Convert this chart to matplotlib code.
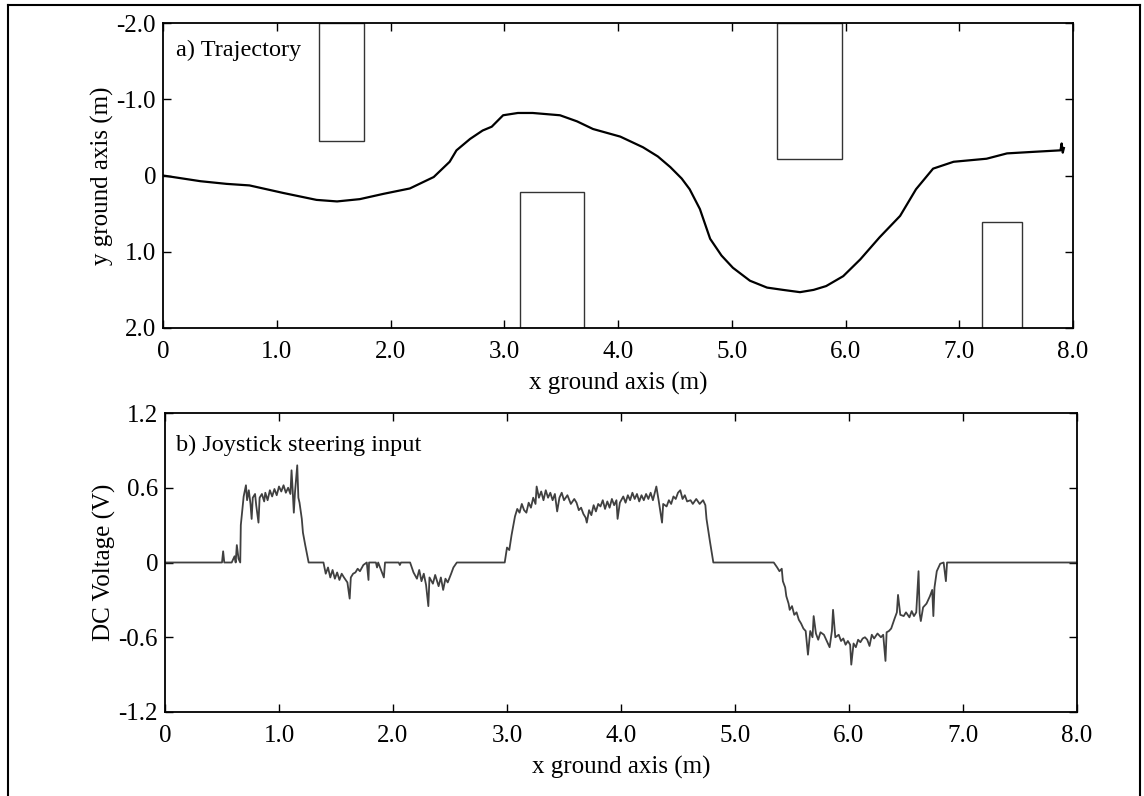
import matplotlib
matplotlib.use("Agg")
import matplotlib.pyplot as plt
from matplotlib.patches import Rectangle
from matplotlib.lines import Line2D

plt.rcParams['font.family'] = ['Liberation Serif', 'DejaVu Serif']

# ---- data: trajectory ----
traj_x = [0, 0.33, 0.56, 0.76, 1.06, 1.35, 1.53, 1.73, 1.94, 2.17, 2.38, 2.52, 2.58, 2.70, 2.81,
          2.89, 2.99, 3.12, 3.25, 3.49, 3.64, 3.78, 4.02, 4.22, 4.35, 4.46, 4.56, 4.63, 4.72, 4.81,
          4.91, 5.01, 5.16, 5.31, 5.45, 5.60, 5.72, 5.83, 5.98, 6.13, 6.30, 6.48, 6.62, 6.77,
          6.95, 7.24, 7.42, 7.65, 7.89, 7.90, 7.91, 7.92]
traj_y = [0, 0.075, 0.11, 0.13, 0.23, 0.32, 0.34, 0.31, 0.24, 0.17, 0.02, -0.18, -0.33, -0.48, -0.59,
          -0.64, -0.79, -0.82, -0.82, -0.79, -0.71, -0.61, -0.51, -0.37, -0.25, -0.11, 0.04, 0.18,
          0.44, 0.83, 1.05, 1.21, 1.38, 1.47, 1.50, 1.53, 1.50, 1.45, 1.32, 1.10, 0.81, 0.53, 0.18,
          -0.09, -0.18, -0.22, -0.29, -0.31, -0.33, -0.42, -0.30, -0.36]

# obstacles: (x0, x1, y0, y1)
obs_x0 = [1.37, 3.14, 5.40, 7.20]
obs_x1 = [1.77, 3.70, 5.97, 7.55]
obs_y0 = [-2.0, 0.21, -2.0, 0.61]
obs_y1 = [-0.45, 2.0, -0.21, 2.0]

# ---- data: joystick voltage ----
volt_x = [0, 0.50, 0.51, 0.52, 0.585, 0.61, 0.62, 0.63, 0.645, 0.66, 0.665, 0.69, 0.71, 0.72,
          0.735, 0.75, 0.76, 0.77, 0.79, 0.80, 0.82, 0.83, 0.85, 0.87, 0.88, 0.90, 0.92, 0.94,
          0.96, 0.98, 1.00, 1.02, 1.04, 1.06, 1.08, 1.10, 1.11, 1.12, 1.13, 1.14, 1.16, 1.17,
          1.18, 1.20, 1.21, 1.23, 1.26, 1.39, 1.41, 1.43, 1.45, 1.47, 1.49, 1.51, 1.53, 1.55,
          1.57, 1.60, 1.62, 1.63, 1.65, 1.67, 1.69, 1.71, 1.74, 1.77, 1.785, 1.79, 1.85, 1.86,
          1.87, 1.92, 1.93, 2.05, 2.06, 2.07, 2.15, 2.18, 2.21, 2.23, 2.25, 2.27, 2.29, 2.31,
          2.32, 2.35, 2.37, 2.40, 2.42, 2.44, 2.46, 2.48, 2.51, 2.53, 2.56, 2.98, 3.00, 3.02,
          3.04, 3.07, 3.09, 3.11, 3.13, 3.15, 3.17, 3.19, 3.21, 3.23, 3.25, 3.26, 3.28, 3.30,
          3.32, 3.34, 3.36, 3.38, 3.40, 3.42, 3.44, 3.46, 3.48, 3.50, 3.53, 3.56, 3.59, 3.61,
          3.63, 3.65, 3.67, 3.69, 3.70, 3.72, 3.74, 3.76, 3.78, 3.80, 3.82, 3.84, 3.86, 3.88,
          3.90, 3.92, 3.94, 3.96, 3.97, 3.99, 4.02, 4.04, 4.06, 4.08, 4.10, 4.12, 4.14, 4.16,
          4.18, 4.20, 4.22, 4.24, 4.26, 4.28, 4.31, 4.33, 4.36, 4.37, 4.40, 4.42, 4.44, 4.46,
          4.48, 4.50, 4.52, 4.54, 4.56, 4.58, 4.61, 4.63, 4.66, 4.69, 4.72, 4.74, 4.75, 4.78,
          4.81, 5.34, 5.37, 5.39, 5.41, 5.42, 5.44, 5.45, 5.47, 5.48, 5.50, 5.52, 5.54, 5.56,
          5.58, 5.60, 5.62, 5.64, 5.66, 5.68, 5.69, 5.71, 5.73, 5.75, 5.78, 5.80, 5.83, 5.85,
          5.86, 5.88, 5.91, 5.93, 5.95, 5.97, 5.99, 6.01, 6.02, 6.04, 6.06, 6.08, 6.10, 6.12,
          6.14, 6.16, 6.18, 6.20, 6.22, 6.25, 6.28, 6.30, 6.32, 6.33, 6.35, 6.37, 6.40, 6.42,
          6.43, 6.45, 6.48, 6.50, 6.53, 6.55, 6.57, 6.59, 6.61, 6.62, 6.63, 6.65, 6.68, 6.71,
          6.73, 6.74, 6.75, 6.77, 6.80, 6.83, 6.85, 6.86, 8.0]
volt_v = [0, 0, 0.09, 0, 0, 0.05, 0.0, 0.14, 0.03, 0.0, 0.30, 0.53, 0.62, 0.50,
          0.58, 0.47, 0.35, 0.52, 0.55, 0.46, 0.32, 0.52, 0.55, 0.49, 0.56, 0.50, 0.58, 0.53,
          0.59, 0.54, 0.61, 0.57, 0.62, 0.56, 0.60, 0.55, 0.74, 0.58, 0.40, 0.56, 0.78, 0.52,
          0.48, 0.35, 0.24, 0.14, 0.0, 0.0, -0.09, -0.04, -0.12, -0.06, -0.13, -0.08, -0.14, -0.09,
          -0.12, -0.16, -0.29, -0.12, -0.09, -0.08, -0.05, -0.07, -0.02, 0.0, -0.14, 0.0, 0.0, -0.04,
          0.0, -0.12, 0.0, 0.0, -0.02, 0.0, 0.0, -0.08, -0.13, -0.06, -0.15, -0.09, -0.18, -0.35,
          -0.12, -0.17, -0.10, -0.19, -0.12, -0.22, -0.13, -0.16, -0.09, -0.04, 0.0, 0.0, 0.12, 0.10,
          0.22, 0.37, 0.43, 0.40, 0.47, 0.42, 0.40, 0.48, 0.44, 0.52, 0.47, 0.61, 0.52, 0.57,
          0.50, 0.58, 0.52, 0.56, 0.50, 0.55, 0.41, 0.52, 0.56, 0.50, 0.54, 0.47, 0.51, 0.48,
          0.42, 0.44, 0.39, 0.36, 0.32, 0.42, 0.38, 0.46, 0.41, 0.47, 0.45, 0.50, 0.43, 0.49,
          0.44, 0.51, 0.46, 0.50, 0.35, 0.48, 0.53, 0.48, 0.54, 0.50, 0.56, 0.51, 0.55, 0.49,
          0.54, 0.50, 0.55, 0.51, 0.56, 0.50, 0.61, 0.50, 0.32, 0.47, 0.45, 0.50, 0.47, 0.53,
          0.51, 0.56, 0.58, 0.51, 0.54, 0.49, 0.50, 0.47, 0.51, 0.47, 0.50, 0.46, 0.35, 0.17,
          0.0, 0.0, -0.04, -0.07, -0.05, -0.15, -0.20, -0.27, -0.33, -0.38, -0.35, -0.42, -0.40, -0.46,
          -0.49, -0.53, -0.55, -0.74, -0.55, -0.60, -0.43, -0.57, -0.62, -0.56, -0.58, -0.62, -0.68, -0.55,
          -0.38, -0.60, -0.58, -0.63, -0.61, -0.66, -0.63, -0.66, -0.82, -0.65, -0.68, -0.62, -0.64, -0.61,
          -0.60, -0.62, -0.67, -0.58, -0.61, -0.57, -0.60, -0.58, -0.79, -0.56, -0.55, -0.53, -0.45, -0.40,
          -0.26, -0.42, -0.43, -0.40, -0.44, -0.39, -0.43, -0.40, -0.07, -0.41, -0.47, -0.36, -0.33, -0.27,
          -0.22, -0.43, -0.20, -0.07, -0.01, 0.0, -0.15, 0.0, 0.0]

x_ticks = [0, 1, 2, 3, 4, 5, 6, 7, 8]
x_ticklabels = ['0', '1.0', '2.0', '3.0', '4.0', '5.0', '6.0', '7.0', '8.0']
ya_ticks = [-2, -1, 0, 1, 2]
ya_ticklabels = ['-2.0', '-1.0', '0', '1.0', '2.0']
yb_ticks = [-1.2, -0.6, 0, 0.6, 1.2]
yb_ticklabels = ['-1.2', '-0.6', '0', '0.6', '1.2']

W, H = 1144, 796
fig = plt.figure(figsize=(W / 100, H / 100), dpi=100)

ax1 = fig.add_axes([163 / W, 1 - 328 / H, (1073 - 163) / W, (328 - 23) / H])
ax2 = fig.add_axes([165 / W, 1 - 712 / H, (1077 - 165) / W, (712 - 413) / H])

FS = 18

def style(ax):
    for s in ax.spines.values():
        s.set_linewidth(1.3)
    ax.tick_params(direction='in', top=True, right=True, length=6, width=1.0,
                   labelsize=FS)
    ax.tick_params(axis='x', pad=9)
    ax.tick_params(axis='y', pad=5)
    ax.set_xlim(0, 8)
    ax.set_xticks(x_ticks)
    ax.set_xticklabels(x_ticklabels)

# top panel
ax1.plot(traj_x, traj_y, color='black', lw=1.6)
for a, b, c, d in zip(obs_x0, obs_x1, obs_y0, obs_y1):
    ax1.add_patch(Rectangle((a, c), b - a, d - c, fill=False, edgecolor='#333333', lw=1.0))
style(ax1)
ax1.set_ylim(2, -2)
ax1.set_yticks(ya_ticks)
ax1.set_yticklabels(ya_ticklabels)
ax1.set_xlabel('x ground axis (m)', fontsize=FS, labelpad=7)
ax1.set_ylabel('y ground axis (m)', fontsize=FS, labelpad=2)
ax1.text(0.014, 0.91, 'a) Trajectory', transform=ax1.transAxes, fontsize=17.5,
         ha='left', va='center')

# bottom panel
ax2.plot(volt_x, volt_v, color='#404040', lw=1.3)
style(ax2)
ax2.set_ylim(-1.2, 1.2)
ax2.set_yticks(yb_ticks)
ax2.set_yticklabels(yb_ticklabels)
ax2.set_xlabel('x ground axis (m)', fontsize=FS, labelpad=7)
ax2.set_ylabel('DC Voltage (V)', fontsize=FS, labelpad=2)
ax2.text(0.012, 0.89, 'b) Joystick steering input', transform=ax2.transAxes,
         fontsize=17.5, ha='left', va='center')

# figure border (left, top, right)
bx0, bx1, by = 7.5 / W, 1140 / W, 1 - 5 / H
fig.add_artist(Line2D([bx0, bx0], [0, by], color='black', lw=1.5, transform=fig.transFigure))
fig.add_artist(Line2D([bx0, bx1], [by, by], color='black', lw=1.5, transform=fig.transFigure))
fig.add_artist(Line2D([bx1, bx1], [by, 0], color='black', lw=1.5, transform=fig.transFigure))

fig.savefig('out.png', dpi=100)
